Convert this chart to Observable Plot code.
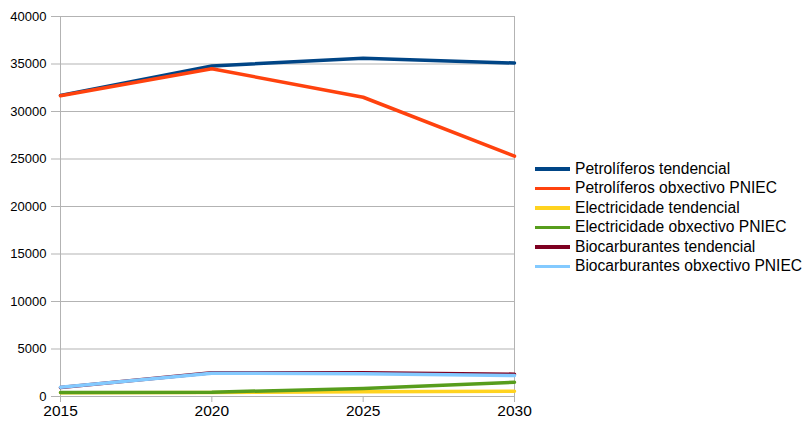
<!DOCTYPE html>
<html>
<head>
<meta charset="utf-8">
<script src="https://cdn.jsdelivr.net/npm/d3@7"></script>
<script src="https://cdn.jsdelivr.net/npm/@observablehq/plot@0.6"></script>
<style>
  html, body { margin: 0; padding: 0; background: #fff; }
  #wrap { position: relative; width: 805px; height: 426px; font-family: "Liberation Sans", Arial, sans-serif; }
  #legend { position: absolute; left: 535px; top: 159px; font-size: 15.6px; color: #000; }
  .item { display: flex; align-items: center; height: 19.5px; white-space: nowrap; }
  .sw { width: 35px; height: 3.5px; margin-right: 5px; }
</style>
</head>
<body>
<div id="wrap"><div id="legend"></div></div>
<script>
const years = [2015, 2020, 2025, 2030];
const seriesNames = [
  "Petrolíferos tendencial",
  "Petrolíferos obxectivo PNIEC",
  "Electricidade tendencial",
  "Electricidade obxectivo PNIEC",
  "Biocarburantes tendencial",
  "Biocarburantes obxectivo PNIEC"
];
const colors = ["#004586", "#ff420e", "#ffd320", "#579d1c", "#7e0021", "#83caff"];
const petroTend = [31700, 34800, 35600, 35100];
const petroObx = [31650, 34500, 31500, 25300];
const elecTend = [400, 430, 500, 550];
const elecObx = [420, 450, 850, 1500];
const bioTend = [950, 2500, 2500, 2350];
const bioObx = [980, 2450, 2400, 2200];
const yTicks = [0, 5000, 10000, 15000, 20000, 25000, 30000, 35000, 40000];
const xTicks = [2015, 2020, 2025, 2030];

const allValues = [petroTend, petroObx, elecTend, elecObx, bioTend, bioObx];
const data = [];
allValues.forEach((vals, i) => {
  vals.forEach((v, j) => data.push({series: seriesNames[i], year: years[j], value: v}));
});

const chart = Plot.plot({
  width: 805,
  height: 426,
  marginLeft: 60,
  marginRight: 291,
  marginTop: 16,
  marginBottom: 30,
  style: {fontFamily: "'Liberation Sans', Arial, sans-serif", background: "transparent"},
  x: {domain: [2015, 2030], ticks: xTicks, tickFormat: d3.format("d"), label: null},
  y: {domain: [0, 40000], ticks: yTicks, label: null},
  color: {domain: seriesNames, range: colors},
  marks: [
    Plot.gridY(yTicks, {stroke: "#b3b3b3", strokeOpacity: 1}),
    Plot.ruleX([2015, 2030], {stroke: "#b3b3b3", strokeWidth: 1}),
    Plot.axisY(yTicks, {tickSize: 9, tickPadding: 5, stroke: "#b3b3b3", fontSize: 13, fill: "#000", tickFormat: d3.format("d")}),
    Plot.axisX(xTicks, {tickSize: 6, tickPadding: 2, stroke: "#b3b3b3", fontSize: 15.5, fill: "#000", tickFormat: d3.format("d")}),
    ...seriesNames.map((s, i) => Plot.line(data.filter(d => d.series === s), {
      x: "year", y: "value", stroke: colors[i], strokeWidth: 3.5, strokeLinejoin: "round"
    }))
  ]
});
document.getElementById("wrap").appendChild(chart);
chart.style.position = "absolute";
chart.style.left = "0";
chart.style.top = "0";

const legend = document.getElementById("legend");
seriesNames.forEach((s, i) => {
  const row = document.createElement("div");
  row.className = "item";
  const sw = document.createElement("span");
  sw.className = "sw";
  sw.style.background = colors[i];
  const t = document.createElement("span");
  t.textContent = s;
  row.appendChild(sw);
  row.appendChild(t);
  legend.appendChild(row);
});
</script>
</body>
</html>
